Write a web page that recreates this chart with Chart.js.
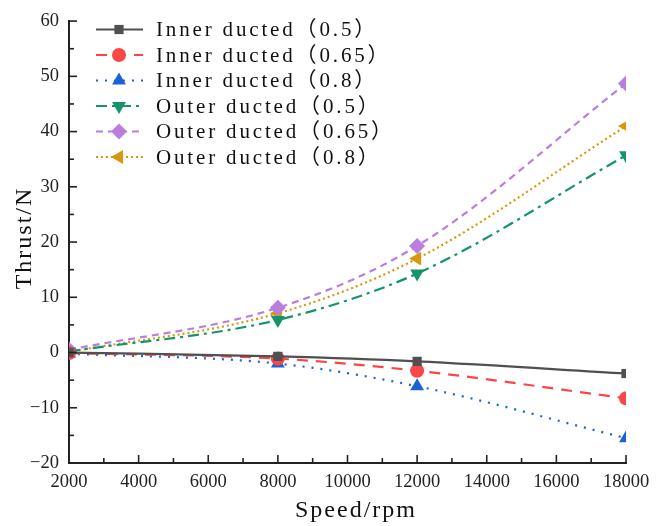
<!DOCTYPE html>
<html>
<head>
<meta charset="utf-8">
<script src="https://cdn.jsdelivr.net/npm/chart.js@4.4.1/dist/chart.umd.min.js"></script>
<style>
  html, body { margin: 0; padding: 0; background: #fff; }
  #wrap { width: 665px; height: 526px; }
</style>
</head>
<body>
<div id="wrap"><canvas id="c" width="665" height="526"></canvas></div>
<script>
// Rotational speed (rpm) at which thrust was measured
const speeds = [2000, 8000, 12000, 18000];

// Thrust (N) for each duct configuration and ratio
const innerDucted05  = [0.0, -0.7, -1.6, -3.8];
const innerDucted065 = [-0.1, -1.1, -3.3, -8.3];
const innerDucted08  = [-0.2, -2.0, -6.1, -15.5];
const outerDucted05  = [0.2, 5.9, 14.3, 35.7];
const outerDucted065 = [0.5, 8.1, 19.3, 48.7];
const outerDucted08  = [0.1, 7.1, 17.0, 41.0];

const seriesNames = [
  'Inner ducted（0.5）',
  'Inner ducted（0.65）',
  'Inner ducted（0.8）',
  'Outer ducted（0.5）',
  'Outer ducted（0.65）',
  'Outer ducted（0.8）'
];

const xTicks = [2000, 4000, 6000, 8000, 10000, 12000, 14000, 16000, 18000];
const yTicks = [-20, -10, 0, 10, 20, 30, 40, 50, 60];

const xyPairs = arr => speeds.map((s, i) => ({ x: s, y: arr[i] }));

const styles = [
  { color: '#505050', dash: [],            point: 'rect',     rot: 0,   r: 6.5 },
  { color: '#fa4646', dash: [11, 8],       point: 'circle',   rot: 0,   r: 7 },
  { color: '#1a62d8', dash: [2, 7],        point: 'triangle', rot: 0,   r: 8 },
  { color: '#14946a', dash: [11, 5, 3, 5], point: 'triangle', rot: 180, r: 8 },
  { color: '#b97ede', dash: [7, 5],        point: 'rectRot',  rot: 0,   r: 8 },
  { color: '#d9970c', dash: [2, 3],        point: 'triangle', rot: -90, r: 8 }
];

const values = [innerDucted05, innerDucted065, innerDucted08, outerDucted05, outerDucted065, outerDucted08];

const datasets = values.map((v, i) => ({
  label: seriesNames[i],
  data: xyPairs(v),
  borderColor: styles[i].color,
  backgroundColor: styles[i].color,
  borderWidth: 2.2,
  borderDash: styles[i].dash,
  pointStyle: styles[i].point,
  pointRotation: styles[i].rot,
  pointRadius: styles[i].r,
  pointBorderWidth: 0,
  cubicInterpolationMode: 'monotone',
  clip: 0,
  fill: false
}));

const TEXT_FONT = '"Liberation Serif", "Noto Sans CJK SC", serif';

// Inward ticks, axis titles and the in-plot legend
const decorations = {
  id: 'decorations',
  afterDraw(chart) {
    const ctx = chart.ctx;
    const xs = chart.scales.x, ys = chart.scales.y;
    const area = chart.chartArea;
    ctx.save();
    ctx.strokeStyle = '#222';
    ctx.lineWidth = 1.6;
    ctx.setLineDash([]);
    // x ticks (major every 2000, minor every 1000)
    for (let v = 2000; v <= 18000; v += 1000) {
      const px = xs.getPixelForValue(v);
      const len = (v % 2000 === 0) ? 8 : 5;
      ctx.beginPath();
      ctx.moveTo(px, area.bottom);
      ctx.lineTo(px, area.bottom - len);
      ctx.stroke();
    }
    // y ticks (major every 10, minor every 5)
    for (let v = -20; v <= 60; v += 5) {
      const py = ys.getPixelForValue(v);
      const len = (v % 10 === 0) ? 8 : 5;
      ctx.beginPath();
      ctx.moveTo(area.left, py);
      ctx.lineTo(area.left + len, py);
      ctx.stroke();
    }

    // axis titles
    ctx.fillStyle = '#111';
    ctx.font = '24px ' + TEXT_FONT;
    ctx.letterSpacing = '2px';
    ctx.textAlign = 'center';
    ctx.textBaseline = 'middle';
    ctx.fillText('Speed/rpm', 356, 511);
    ctx.save();
    ctx.translate(25, 238);
    ctx.rotate(-Math.PI / 2);
    ctx.fillText('Thrust/N', 0, 0);
    ctx.restore();

    // legend: spacing chosen so the first entry spans 222px
    ctx.font = '21px ' + TEXT_FONT;
    ctx.letterSpacing = '0px';
    const first = seriesNames[0];
    const baseW = ctx.measureText(first).width;
    const spacing = (222 - baseW) / [...first].length;
    ctx.letterSpacing = spacing.toFixed(2) + 'px';
    ctx.textAlign = 'left';
    chart.data.datasets.forEach((ds, i) => {
      const y = 29.5 + i * 25.5;
      ctx.strokeStyle = ds.borderColor;
      ctx.lineWidth = 2.2;
      ctx.setLineDash(ds.borderDash);
      ctx.beginPath();
      ctx.moveTo(96, y);
      ctx.lineTo(143, y);
      ctx.stroke();
      ctx.setLineDash([]);
      ctx.fillStyle = ds.backgroundColor;
      Chart.helpers.drawPoint(ctx, {
        pointStyle: ds.pointStyle,
        rotation: ds.pointRotation,
        radius: ds.pointRadius,
        borderWidth: 0
      }, 119, y);
      ctx.fillStyle = '#111';
      ctx.fillText(ds.label, 156, y + 1);
    });
    ctx.restore();
  }
};

new Chart(document.getElementById('c'), {
  type: 'line',
  data: { datasets },
  options: {
    responsive: false,
    animation: false,
    layout: { padding: { top: 13, right: 39, left: 0, bottom: 0 } },
    plugins: { legend: { display: false }, tooltip: { enabled: false } },
    scales: {
      x: {
        type: 'linear',
        min: 2000, max: 18000,
        afterBuildTicks: s => { s.ticks = xTicks.map(v => ({ value: v })); },
        afterFit: s => { s.height = 63; },
        grid: { display: false, drawTicks: false },
        border: { display: true, color: '#222', width: 2 },
        ticks: {
          color: '#222',
          padding: 8,
          maxRotation: 0,
          autoSkip: false,
          font: { family: TEXT_FONT, size: 18.5 },
          callback: v => String(v)
        }
      },
      y: {
        type: 'linear',
        min: -20, max: 60,
        afterBuildTicks: s => { s.ticks = yTicks.map(v => ({ value: v })); },
        afterFit: s => { s.width = 69; },
        grid: { display: false, drawTicks: false },
        border: { display: true, color: '#222', width: 2 },
        ticks: {
          color: '#222',
          padding: 10,
          font: { family: TEXT_FONT, size: 18.5 },
          callback: v => String(v).replace('-', '\u2212')
        }
      }
    }
  },
  plugins: [decorations]
});
</script>
</body>
</html>
